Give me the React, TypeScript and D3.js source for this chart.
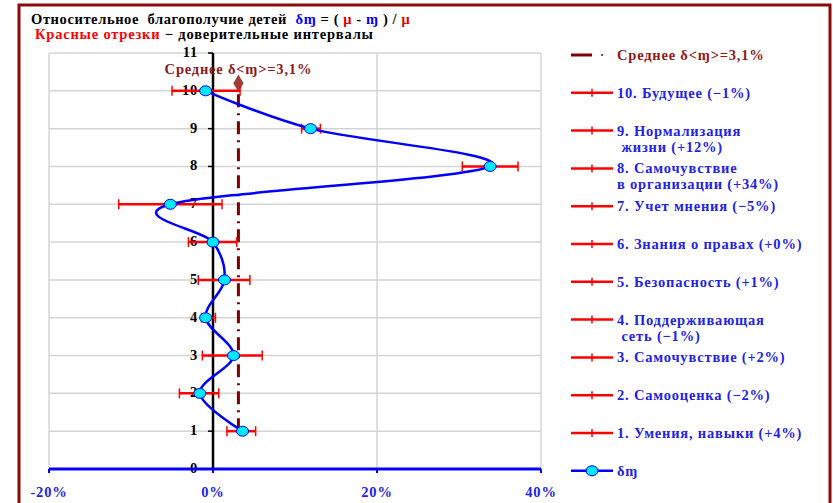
import * as d3 from 'd3';
import React, { useEffect, useRef } from 'react';

// categories 1..10 (y position = index + 1)
const legendLabels: string[][] = [
  ['1. Умения, навыки (+4%)'],
  ['2. Самооценка (−2%)'],
  ['3. Самочувствие (+2%)'],
  ['4. Поддерживающая', ' сеть (−1%)'],
  ['5. Безопасность (+1%)'],
  ['6. Знания о правах (+0%)'],
  ['7. Учет мнения (−5%)'],
  ['8. Самочувствие', 'в организации (+34%)'],
  ['9. Нормализация', ' жизни (+12%)'],
  ['10. Будущее (−1%)'],
];

// relative well-being, %
const deltaValues = [3.6, -1.6, 2.5, -0.9, 1.4, 0.0, -5.2, 33.8, 11.9, -0.9];
// confidence interval ends, %
const lowValues = [1.7, -4.1, -1.3, -1.4, -1.8, -3.0, -11.5, 30.4, 10.8, -5.0];
const highValues = [5.2, 0.7, 6.0, 0.3, 4.5, 2.9, 1.1, 37.2, 13.1, 3.3];

const meanValue = 3.1;
const meanTop = 10.2;

const xTicks = [-20, 0, 20, 40];
const yTicks = d3.range(0, 12);

const W = 833;
const H = 503;
const FONT = '"Liberation Serif", "Times New Roman", serif';
const FS = '14.5px';
const LS = '0.8px';
const BLUE = '#0000FF';
const TEXT_BLUE = '#2222E6';

const App: React.FC = () => {
  const svgRef = useRef<SVGSVGElement>(null);

  useEffect(() => {
    if (!svgRef.current) return;
    const svg = d3.select(svgRef.current);
    svg.selectAll('*').remove();

    const x = d3.scaleLinear().domain([-20, 40]).range([49, 541]);
    const y = d3.scaleLinear().domain([0, 11]).range([469, 53]);

    const txt = (sel: any, ls = LS) =>
      sel.style('font-family', FONT).style('font-weight', 'bold')
        .style('font-size', FS).style('letter-spacing', ls);

    svg.append('rect').attr('width', W).attr('height', H).attr('fill', '#fff');

    // outer frame
    svg.append('rect')
      .attr('x', 19).attr('y', 5).attr('width', 811).attr('height', 520)
      .attr('fill', 'none').attr('stroke', '#8C0A0A').attr('stroke-width', 3);

    // title
    const t1 = txt(svg.append('text').attr('x', 31).attr('y', 24), '0.6px')
      .attr('fill', '#000').style('white-space', 'pre');
    t1.append('tspan').text('Относительное  благополучие детей  ');
    t1.append('tspan').attr('fill', BLUE).text('δɱ');
    t1.append('tspan').text(' = ( ');
    t1.append('tspan').attr('fill', '#E00000').text('μ');
    t1.append('tspan').text(' - ');
    t1.append('tspan').attr('fill', BLUE).text('ɱ');
    t1.append('tspan').text(' ) / ');
    t1.append('tspan').attr('fill', '#E00000').text('μ');

    const t2 = txt(svg.append('text').attr('x', 35).attr('y', 39)).attr('fill', '#000');
    t2.append('tspan').attr('fill', '#FF0000').text('Красные отрезки');
    t2.append('tspan').text(' − доверительные интервалы');

    // plot area + grid
    const g = svg.append('g');
    g.selectAll('.hgrid')
      .data(yTicks.filter(d => d > 0))
      .join('line')
      .attr('x1', x(-20)).attr('x2', x(40))
      .attr('y1', d => y(d)).attr('y2', d => y(d))
      .attr('stroke', '#D4D4D4').attr('stroke-width', 1.5);
    g.selectAll('.vgrid')
      .data(xTicks)
      .join('line')
      .attr('x1', d => x(d)).attr('x2', d => x(d))
      .attr('y1', y(11)).attr('y2', y(0))
      .attr('stroke', '#D4D4D4').attr('stroke-width', 1.5);

    // y axis at 0%
    g.append('line')
      .attr('x1', x(0)).attr('x2', x(0)).attr('y1', y(11)).attr('y2', y(0))
      .attr('stroke', '#000').attr('stroke-width', 2.5);
    g.selectAll('.ytick')
      .data(yTicks)
      .join('line')
      .attr('x1', x(0) - 5).attr('x2', x(0))
      .attr('y1', d => y(d)).attr('y2', d => y(d))
      .attr('stroke', '#000').attr('stroke-width', 1.5);
    txt(g.selectAll('.ylab')
      .data(yTicks)
      .join('text')
      .attr('x', x(0) - 15).attr('y', d => y(d) + 4)
      .attr('text-anchor', 'end'))
      .attr('fill', '#000')
      .text(d => String(d));

    // x axis
    g.append('line')
      .attr('x1', x(-20)).attr('x2', x(40)).attr('y1', y(0)).attr('y2', y(0))
      .attr('stroke', BLUE).attr('stroke-width', 3);
    g.selectAll('.xtick')
      .data(xTicks)
      .join('line')
      .attr('x1', d => x(d)).attr('x2', d => x(d))
      .attr('y1', y(0)).attr('y2', y(0) + 4)
      .attr('stroke', BLUE).attr('stroke-width', 2);
    txt(g.selectAll('.xlab')
      .data(xTicks)
      .join('text')
      .attr('x', d => x(d)).attr('y', 497)
      .attr('text-anchor', 'middle'))
      .attr('fill', TEXT_BLUE)
      .text(d => `${d}%`);

    // mean line
    g.append('line')
      .attr('x1', x(meanValue)).attr('x2', x(meanValue))
      .attr('y1', y(1)).attr('y2', y(meanTop))
      .attr('stroke', '#800000').attr('stroke-width', 3)
      .attr('stroke-dasharray', '13,6,2,6');
    g.append('path')
      .attr('d', d3.symbol(d3.symbolDiamond, 90)())
      .attr('transform', `translate(${x(meanValue)},${y(meanTop)})`)
      .attr('fill', '#9C3F3A');
    txt(g.append('text')
      .attr('x', x(meanValue)).attr('y', 74)
      .attr('text-anchor', 'middle'))
      .attr('fill', '#8B1A1A')
      .text('Среднее δ<ɱ>=3,1%');

    // confidence intervals
    const idx = d3.range(deltaValues.length);
    g.selectAll('.ci')
      .data(idx)
      .join('line')
      .attr('x1', i => x(lowValues[i])).attr('x2', i => x(highValues[i]))
      .attr('y1', i => y(i + 1)).attr('y2', i => y(i + 1))
      .attr('stroke', '#FF0000').attr('stroke-width', 2.5);
    const caps = idx.flatMap(i => [
      { v: lowValues[i], k: i + 1 },
      { v: highValues[i], k: i + 1 },
    ]);
    g.selectAll('.cap')
      .data(caps)
      .join('line')
      .attr('x1', d => x(d.v)).attr('x2', d => x(d.v))
      .attr('y1', d => y(d.k) - 5).attr('y2', d => y(d.k) + 5)
      .attr('stroke', '#FF0000').attr('stroke-width', 1.5);

    // smoothed δ line
    const pts: [number, number][] = idx.map(i => [x(deltaValues[i]), y(i + 1)]);
    g.append('path')
      .attr('d', d3.line().curve(d3.curveCardinal.tension(0))(pts) || '')
      .attr('fill', 'none').attr('stroke', BLUE).attr('stroke-width', 2.5);
    g.selectAll('.pt')
      .data(pts)
      .join('ellipse')
      .attr('cx', d => d[0]).attr('cy', d => d[1])
      .attr('rx', 6).attr('ry', 5)
      .attr('fill', '#00E8FF').attr('stroke', BLUE).attr('stroke-width', 1);

    // legend
    const lg = svg.append('g');
    const ly = (k: number) => 55 + k * 37.8;
    lg.append('line')
      .attr('x1', 571).attr('x2', 592).attr('y1', ly(0)).attr('y2', ly(0))
      .attr('stroke', '#800000').attr('stroke-width', 3);
    lg.append('circle').attr('cx', 602).attr('cy', ly(0)).attr('r', 1).attr('fill', '#800000');
    txt(lg.append('text').attr('x', 617).attr('y', ly(0) + 5))
      .attr('fill', '#8B1A1A')
      .text('Среднее δ<ɱ>=3,1%');

    const order = idx.slice().reverse();
    order.forEach((i, k) => {
      const yy = ly(k + 1);
      lg.append('line')
        .attr('x1', 571).attr('x2', 613).attr('y1', yy).attr('y2', yy)
        .attr('stroke', '#FF0000').attr('stroke-width', 2.5);
      lg.append('line')
        .attr('x1', 592).attr('x2', 592).attr('y1', yy - 4).attr('y2', yy + 4)
        .attr('stroke', '#FF0000').attr('stroke-width', 1.5);
      const tx = txt(lg.append('text').attr('x', 617).attr('y', yy + 5))
        .attr('fill', TEXT_BLUE).style('white-space', 'pre');
      legendLabels[i].forEach((line, j) => {
        tx.append('tspan')
          .attr('x', 617).attr('dy', j === 0 ? 0 : 16)
          .text(line);
      });
    });

    const yb = ly(11);
    lg.append('line')
      .attr('x1', 571).attr('x2', 613).attr('y1', yb).attr('y2', yb)
      .attr('stroke', BLUE).attr('stroke-width', 2.5);
    lg.append('ellipse')
      .attr('cx', 592).attr('cy', yb).attr('rx', 6).attr('ry', 5)
      .attr('fill', '#00E8FF').attr('stroke', BLUE).attr('stroke-width', 1);
    txt(lg.append('text').attr('x', 617).attr('y', yb + 5))
      .attr('fill', TEXT_BLUE)
      .text('δɱ');
  }, []);

  return (
    <div style={{ position: 'absolute', left: 0, top: 0 }}>
      <svg ref={svgRef} width={W} height={H} style={{ display: 'block' }} />
    </div>
  );
};

export default App;
